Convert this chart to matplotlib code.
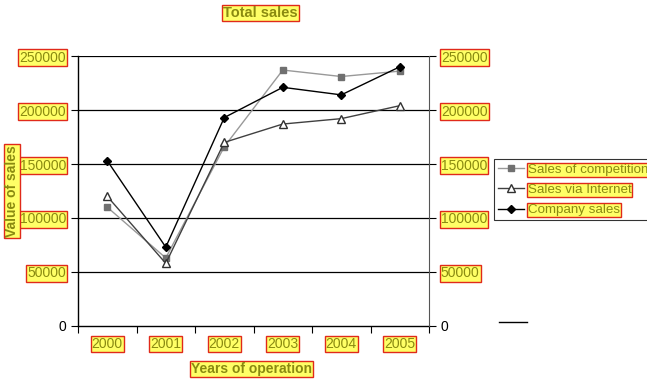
import matplotlib.pyplot as plt
from matplotlib.lines import Line2D
import numpy as np

plt.rcParams['font.family'] = ['Liberation Sans', 'DejaVu Sans']

years = ['2000', '2001', '2002', '2003', '2004', '2005']
competition = [110000, 63000, 166000, 237000, 231000, 236000]
internet = [120000, 58000, 170000, 187000, 192000, 204000]
company = [153000, 73000, 193000, 221000, 214000, 240000]
yticks = [0, 50000, 100000, 150000, 200000, 250000]

txt_col = '#8a8a10'
box = dict(boxstyle='square,pad=0.08', fc='#ffff66', ec='#e02a1a', lw=1)

fig = plt.figure(figsize=(6.47, 3.82), dpi=100)
ax = fig.add_axes([0.1206, 0.1466, 0.5425, 0.7068])

x = np.arange(len(years))
ax.plot(x, competition, '-s', color='#999999', mfc='#707070', mec='#707070', ms=5, lw=1, label='Sales of competition')
ax.plot(x, internet, '-^', color='#404040', mfc='white', mec='#303030', ms=6, lw=1, label='Sales via Internet')
ax.plot(x, company, '-D', color='black', mfc='black', ms=4.5, lw=1, label='Company sales')

ax.set_xlim(-0.5, 5.5)
ax.set_ylim(0, 250000)
for v in yticks[1:]:
    ax.axhline(v, color='black', lw=0.9, zorder=0)

ax.set_xticks(np.arange(-0.5, 6, 1))
ax.set_xticklabels([])
ax.set_xticks(x, minor=True)
ax.set_xticklabels(years, minor=True)
ax.tick_params(axis='x', which='major', length=5, direction='out')
ax.tick_params(axis='x', which='minor', length=0, pad=8, labelsize=10, labelcolor=txt_col)

ax.set_yticks(yticks)
ax.set_yticklabels(['0'] + [str(v) for v in yticks[1:]])
ax.tick_params(axis='y', length=5, direction='out', labelsize=10, labelcolor=txt_col)

for s in ['top', 'right']:
    ax.spines[s].set_visible(False)
ax.spines['left'].set_linewidth(1)
ax.spines['bottom'].set_linewidth(1)

ax2 = ax.twinx()
ax2.set_ylim(0, 250000)
ax2.set_yticks(yticks)
ax2.set_yticklabels(['0'] + [str(v) for v in yticks[1:]])
ax2.tick_params(axis='y', length=5, direction='out', labelsize=10, labelcolor=txt_col)
for s in ['top', 'left', 'bottom']:
    ax2.spines[s].set_visible(False)
ax2.spines['right'].set_color('#555555')

# highlighted tick labels, plain zeros
for a in (ax, ax2):
    for lab in a.get_yticklabels():
        if lab.get_text() == '0':
            lab.set_color('black')
        else:
            lab.set_bbox(box)
for lab in ax.get_xticklabels(minor=True):
    lab.set_bbox(box)

fig.text(0.403, 0.966, 'Total sales', ha='center', va='center', fontsize=10.5,
         fontweight='bold', color=txt_col, bbox=box)
fig.text(0.389, 0.034, 'Years of operation', ha='center', va='center', fontsize=10,
         fontweight='bold', color=txt_col, bbox=box)
fig.text(0.019, 0.5, 'Value of sales', ha='center', va='center', rotation=90,
         fontsize=10, fontweight='bold', color=txt_col, bbox=box)

leg = ax.legend(loc='upper left', bbox_to_anchor=(0.763, 0.583), bbox_transform=fig.transFigure,
                frameon=True, fancybox=False, fontsize=9.6, handlelength=2.0,
                handletextpad=0.25, labelspacing=0.6, borderpad=0.3, borderaxespad=0)
leg.get_frame().set_edgecolor('black')
leg.get_frame().set_linewidth(0.8)
for t in leg.get_texts():
    t.set_color(txt_col)
    t.set_bbox(box)

fig.add_artist(Line2D([499 / 647, 527 / 647], [1 - 322 / 382, 1 - 322 / 382], color='black', lw=1))

fig.savefig('out.png', dpi=100)
